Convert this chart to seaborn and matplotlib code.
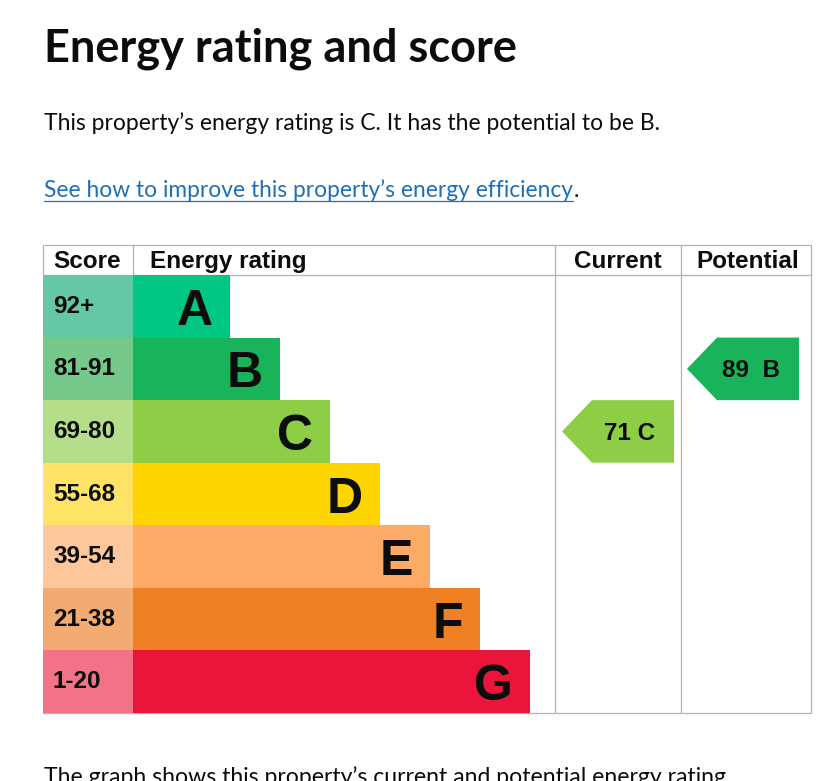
import seaborn as sns
import matplotlib
matplotlib.use('Agg')
import matplotlib.pyplot as plt
from matplotlib.patches import Polygon
from matplotlib.transforms import offset_copy

# Chart data
bands = ['A', 'B', 'C', 'D', 'E', 'F', 'G']
score_ranges = ['92+', '81-91', '69-80', '55-68', '39-54', '21-38', '1-20']
band_min = [92, 81, 69, 55, 39, 21, 1]
bar_length = [97, 147, 197, 247, 297, 347, 397]
current_score = 71
potential_score = 89

# Styling
band_colors = ['#00c781', '#19b459', '#8dce46', '#ffd500', '#fcaa65', '#ef8023', '#e9153b']
score_colors = ['#64c8a4', '#75c98b', '#b4de8a', '#ffe366', '#fdc69b', '#f4ab72', '#f27288']
grey = '#b1b4b6'
ink = '#0b0c0c'
link_blue = '#1d70b8'
arial = ['Liberation Sans', 'DejaVu Sans']
gds = ['Lato', 'DejaVu Sans']

sns.set_style('white')

W, H = 837, 781
fig = plt.figure(figsize=(W / 100, H / 100), dpi=100)


def rect(x0, y0, x1, y1):
    # pixel box -> figure fraction
    return [x0 / W, 1 - y1 / H, (x1 - x0) / W, (y1 - y0) / H]


def fit_text(ax, x, y, s, target_w, **kw):
    # scale font size so the text spans target_w pixels
    t = ax.text(x, y, s, **kw)
    r = fig.canvas.get_renderer()
    w = t.get_window_extent(renderer=r).width
    t.set_fontsize(t.get_fontsize() * target_w / w)
    return t


# background axes in pixel coords for page text and table lines
bg = fig.add_axes([0, 0, 1, 1], zorder=0)
bg.set_xlim(0, W)
bg.set_ylim(H, 0)
bg.axis('off')

fit_text(bg, 44, 62, 'Energy rating and score', 472, fontsize=30, fontweight='bold',
         family=gds, color=ink, va='baseline')
fit_text(bg, 44, 130.5, 'This property\u2019s energy rating is C. It has the potential to be B.', 616,
         fontsize=15, family=gds, color=ink, va='baseline')
link = fit_text(bg, 44, 197, 'See how to improve this property\u2019s energy efficiency', 529,
                fontsize=15, family=gds, color=link_blue, va='baseline')
bg.plot([44, 573], [201, 201], color=link_blue, lw=0.9)
bg.text(574, 197, '.', fontsize=link.get_fontsize(), family=gds, color=ink, va='baseline')
fit_text(bg, 44, 784, 'The graph shows this property\u2019s current and potential energy rating.', 688,
         fontsize=15, family=gds, color=ink, va='baseline')

# table grid
top, head, bot, left, right = 244.5, 275, 713, 43, 811
for yy in [top, head, bot]:
    bg.plot([left, right], [yy, yy], color=grey, lw=0.9)
for xx, y1 in [(left, head), (133, head), (555, bot), (681, bot), (right, bot)]:
    bg.plot([xx, xx], [top, y1], color=grey, lw=0.9)

hdr = dict(fontsize=17.5, fontweight='bold', family=arial, color=ink, va='baseline')
bg.text(53, 268, 'Score', **hdr)
bg.text(150, 268, 'Energy rating', **hdr)
bg.text(618, 268, 'Current', ha='center', **hdr)
bg.text(748, 268, 'Potential', ha='center', **hdr)

rows = list(range(len(bands)))

# score column
ax_s = fig.add_axes(rect(43, 275, 133, 713), zorder=1)
ax_s.barh(rows, 90, height=1, color=score_colors, linewidth=0)
ax_s.set_xlim(0, 90)
ax_s.set_ylim(len(bands) - 0.5, -0.5)
ax_s.axis('off')
lbl_tr = offset_copy(ax_s.transData, y=-6.5, units='dots')
for i, s in enumerate(score_ranges):
    ax_s.text(10, i, s, fontsize=17.5, fontweight='bold', family=arial, color=ink,
              va='baseline', transform=lbl_tr)

# rating bars
ax_r = fig.add_axes(rect(133, 275, 555, 713), zorder=1)
ax_r.patch.set_alpha(0)
sns.barplot(x=bar_length, y=bands, hue=bands, palette=band_colors, orient='h',
            width=1, saturation=1, linewidth=0, legend=False, ax=ax_r)
ax_r.set_xlim(0, 422)
ax_r.set_ylim(len(bands) - 0.5, -0.5)
ax_r.axis('off')
let_tr = offset_copy(ax_r.transData, y=-18.5, units='dots')
for i, (b, L) in enumerate(zip(bands, bar_length)):
    ax_r.text(L - 17, i, b, ha='right', va='baseline', fontsize=36, fontweight='bold',
              family=arial, color=ink, transform=let_tr)


def band_of(score):
    return next(k for k, m in enumerate(band_min) if score >= m)


def rating_arrow(box, width, score, tip, notch, end, sep):
    ax = fig.add_axes(rect(*box), zorder=1)
    ax.patch.set_alpha(0)
    ax.set_xlim(0, width)
    ax.set_ylim(len(bands) - 0.5, -0.5)
    ax.axis('off')
    i = band_of(score)
    ax.add_patch(Polygon([(tip, i), (notch, i - 0.5), (end, i - 0.5), (end, i + 0.5), (notch, i + 0.5)],
                         closed=True, facecolor=band_colors[i], linewidth=0))
    ax.text(end - 19, i, f'{score}{sep}{bands[i]}', ha='right', va='baseline', fontsize=17.5,
            fontweight='bold', family=arial, color=ink,
            transform=offset_copy(ax.transData, y=-8.5, units='dots'))


rating_arrow((555, 275, 681, 713), 126, current_score, 7, 37, 119, ' ')
rating_arrow((681, 275, 811, 713), 130, potential_score, 6, 36, 118, '  ')

fig.savefig('out.png', dpi=100)
